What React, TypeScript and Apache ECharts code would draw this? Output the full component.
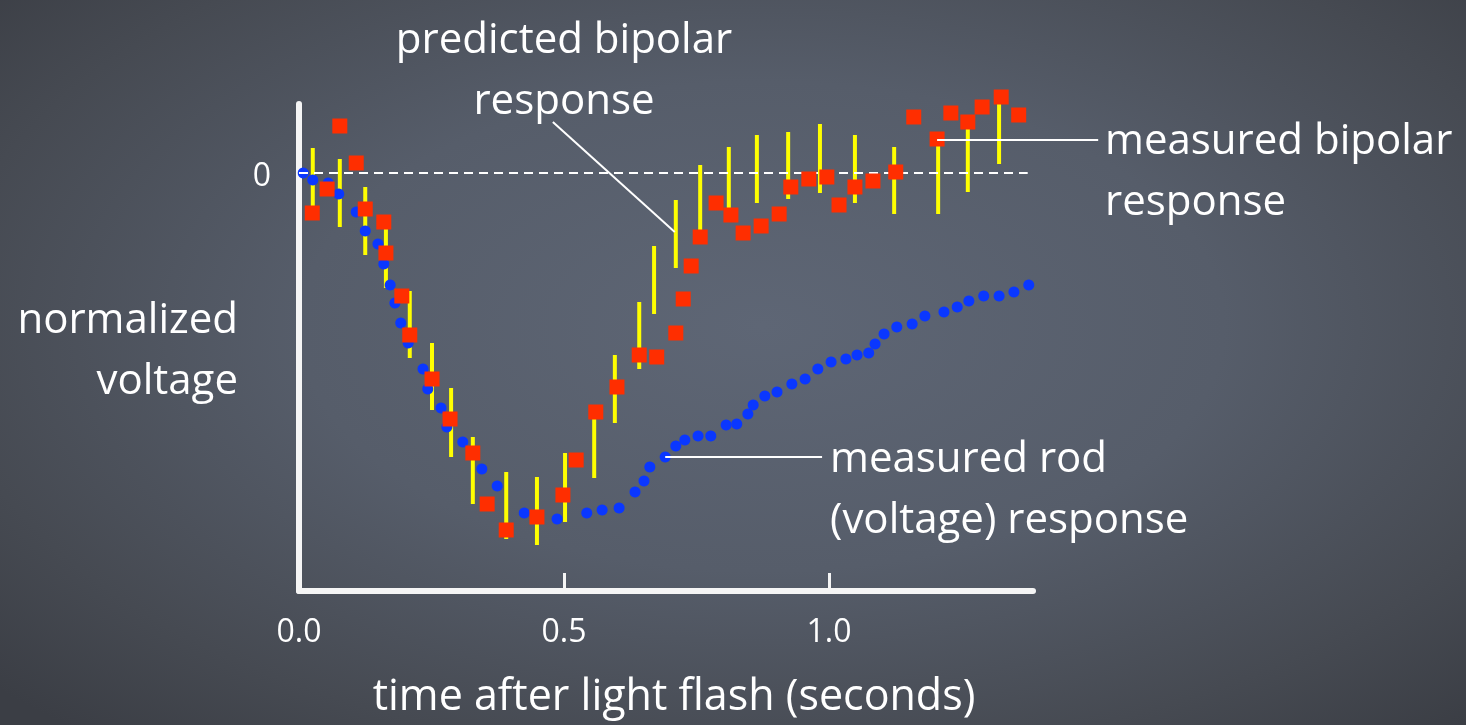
import React, { useEffect, useRef } from "react";
import * as echarts from "echarts";

// measured rod (voltage) response — blue dots
const rodTimes = [
  0.008, 0.026, 0.055, 0.075, 0.108, 0.125, 0.149, 0.16, 0.172, 0.181, 0.192, 0.206,
  0.234, 0.243, 0.268, 0.279, 0.309, 0.345, 0.374, 0.425, 0.487, 0.543, 0.572, 0.604,
  0.634, 0.651, 0.662, 0.691, 0.711, 0.728, 0.753, 0.777, 0.806, 0.826, 0.847, 0.857,
  0.879, 0.902, 0.93, 0.955, 0.979, 1.004, 1.032, 1.053, 1.075, 1.087, 1.104, 1.128,
  1.157, 1.181, 1.217, 1.242, 1.264, 1.292, 1.321, 1.349, 1.377,
];
const rodVoltages = [
  0.0, -0.07, -0.1, -0.21, -0.39, -0.58, -0.71, -0.91, -1.12, -1.3, -1.5, -1.7,
  -1.96, -2.16, -2.35, -2.54, -2.69, -2.96, -3.13, -3.4, -3.46, -3.4, -3.37, -3.35,
  -3.19, -3.08, -2.94, -2.84, -2.73, -2.67, -2.63, -2.63, -2.52, -2.51, -2.41, -2.32,
  -2.23, -2.19, -2.11, -2.06, -1.96, -1.89, -1.86, -1.82, -1.8, -1.71, -1.61, -1.54,
  -1.51, -1.43, -1.39, -1.34, -1.28, -1.23, -1.23, -1.19, -1.12,
];

// measured bipolar response — red squares
const bipolarTimes = [
  0.025, 0.053, 0.077, 0.108, 0.125, 0.16, 0.164, 0.194, 0.209, 0.251, 0.285, 0.328,
  0.355, 0.391, 0.449, 0.498, 0.523, 0.56, 0.6, 0.642, 0.675, 0.711, 0.725, 0.74,
  0.757, 0.787, 0.815, 0.838, 0.872, 0.906, 0.928, 0.962, 0.996, 1.019, 1.049, 1.083,
  1.126, 1.16, 1.204, 1.23, 1.262, 1.289, 1.325, 1.358,
];
const bipolarVoltages = [
  -0.4, -0.16, 0.47, 0.1, -0.36, -0.49, -0.8, -1.23, -1.62, -2.06, -2.46, -2.8,
  -3.31, -3.57, -3.44, -3.22, -2.87, -2.39, -2.14, -1.82, -1.84, -1.6, -1.26, -0.93,
  -0.64, -0.3, -0.42, -0.6, -0.53, -0.41, -0.14, -0.06, -0.04, -0.32, -0.14, -0.08,
  0.01, 0.56, 0.34, 0.6, 0.51, 0.66, 0.76, 0.58,
];

// predicted bipolar response — yellow ranges
const predTimes = [
  0.026, 0.077, 0.125, 0.164, 0.209, 0.251, 0.287, 0.328, 0.391, 0.449, 0.502, 0.557,
  0.596, 0.642, 0.67, 0.711, 0.757, 0.811, 0.864, 0.923, 0.983, 1.049, 1.123, 1.206,
  1.262, 1.321,
];
const predLow = [
  -0.37, -0.54, -0.82, -1.15, -1.85, -2.37, -2.84, -3.31, -3.66, -3.72, -3.49, -3.05,
  -2.5, -1.96, -1.41, -0.95, -0.57, -0.41, -0.3, -0.26, -0.2, -0.3, -0.41, -0.41,
  -0.19, 0.09,
];
const predHigh = [
  0.25, 0.14, -0.14, -0.47, -1.18, -1.7, -2.15, -2.64, -2.99, -3.04, -2.8, -2.37,
  -1.82, -1.29, -0.73, -0.27, 0.08, 0.26, 0.38, 0.41, 0.49, 0.38, 0.26, 0.3,
  0.48, 0.76,
];

const xTicks = [0, 0.5, 1.0];
const yTicks = [0];

// annotation leader lines, in data units: [x1, y1, x2, y2]
const predictedLeader = [0.479, 0.51, 0.709, -0.59];
const rodLeader = [0.691, -2.84, 0.987, -2.84];
const bipolarLeader = [1.204, 0.33, 1.508, 0.33];

const FONT = '"Open Sans", "DejaVu Sans", sans-serif';

export default function App() {
  const ref = useRef<HTMLDivElement>(null);

  useEffect(() => {
    if (!ref.current) return;
    const chart = echarts.init(ref.current, undefined, { renderer: "svg" });

    const rodData = rodTimes.map((t, i) => [t, rodVoltages[i]]);
    const bipData = bipolarTimes.map((t, i) => [t, bipolarVoltages[i]]);
    const predData = predTimes.map((t, i) => [t, predLow[i], predHigh[i]]);

    const leader = { color: "#ffffff", width: 2, type: "solid" as const };
    const textStyle = (text: string, align: string) => ({
      text,
      fill: "#ffffff",
      font: `42px ${FONT}`,
      textAlign: align,
      textVerticalAlign: "middle",
      lineHeight: 61,
    });

    chart.setOption({
      animation: false,
      backgroundColor: "transparent",
      grid: { left: 299, top: 104, width: 734, height: 487, containLabel: false },
      xAxis: {
        type: "value",
        min: 0,
        max: 1.385,
        axisLine: { show: true, onZero: false, lineStyle: { color: "#f5f5f5", width: 6 } },
        axisTick: {
          show: true,
          inside: true,
          length: 18,
          customValues: xTicks,
          lineStyle: { color: "#f5f5f5", width: 3 },
        },
        axisLabel: {
          color: "#ffffff",
          fontFamily: FONT,
          fontSize: 32,
          margin: 22,
          customValues: xTicks,
          formatter: (v: number) => v.toFixed(1),
        },
        splitLine: { show: false },
      },
      yAxis: {
        type: "value",
        min: -4.18,
        max: 0.69,
        axisLine: { show: true, onZero: false, lineStyle: { color: "#f5f5f5", width: 6 } },
        axisTick: { show: false, customValues: yTicks },
        axisLabel: {
          color: "#ffffff",
          fontFamily: FONT,
          fontSize: 32,
          margin: 28,
          customValues: yTicks,
          formatter: (v: number) => String(v),
        },
        splitLine: { show: false },
      },
      graphic: [
        { type: "text", x: 564, y: 67, style: textStyle("predicted bipolar\nresponse", "center"), z: 10 },
        { type: "text", x: 238, y: 347, style: textStyle("normalized\nvoltage", "right") },
        { type: "text", x: 1105, y: 168, style: textStyle("measured bipolar\nresponse", "left") },
        { type: "text", x: 830, y: 486, style: textStyle("measured rod\n(voltage) response", "left") },
        {
          type: "text",
          x: 674,
          y: 693,
          style: {
            text: "time after light flash (seconds)",
            fill: "#ffffff",
            font: `43px ${FONT}`,
            textAlign: "center",
            textVerticalAlign: "middle",
            lineHeight: 43,
          },
        },
      ],
      series: [
        {
          type: "line",
          data: [],
          silent: true,
          markLine: {
            silent: true,
            symbol: ["none", "none"],
            label: { show: false },
            animation: false,
            data: [
              [
                { coord: [0, 0], lineStyle: { color: "#ffffff", width: 2, type: [9, 6] } },
                { coord: [1.375, 0] },
              ],
              [
                { coord: [predictedLeader[0], predictedLeader[1]], lineStyle: leader },
                { coord: [predictedLeader[2], predictedLeader[3]] },
              ],
              [
                { coord: [rodLeader[0], rodLeader[1]], lineStyle: leader },
                { coord: [rodLeader[2], rodLeader[3]] },
              ],
            ],
          },
        },
        {
          type: "custom",
          name: "predicted bipolar response",
          data: predData,
          encode: { x: 0, y: [1, 2] },
          renderItem: (_params: any, api: any) => {
            const x = api.value(0);
            const p1 = api.coord([x, api.value(1)]);
            const p2 = api.coord([x, api.value(2)]);
            return {
              type: "line",
              shape: { x1: p1[0], y1: p1[1], x2: p2[0], y2: p2[1] },
              style: { stroke: "#ffff00", lineWidth: 4 },
            };
          },
          z: 3,
        },
        {
          type: "scatter",
          name: "measured rod response",
          data: rodData,
          symbol: "circle",
          symbolSize: 11,
          itemStyle: { color: "#0a37ff", opacity: 1 },
          clip: false,
          z: 4,
        },
        {
          type: "scatter",
          name: "measured bipolar response",
          data: bipData,
          symbol: "rect",
          symbolSize: 15,
          itemStyle: { color: "#ff2e00", opacity: 1 },
          clip: false,
          z: 5,
        },
      ],
    });

    // leader line that runs past the axis end, placed through the chart's own scale
    const a = chart.convertToPixel({ gridIndex: 0 }, [bipolarLeader[0], bipolarLeader[1]]) as number[];
    const b = chart.convertToPixel({ gridIndex: 0 }, [bipolarLeader[2], bipolarLeader[3]]) as number[];
    chart.setOption({
      graphic: [
        {
          type: "line",
          id: "bipolarLeader",
          shape: { x1: a[0], y1: a[1], x2: b[0], y2: b[1] },
          style: { stroke: "#ffffff", lineWidth: 2 },
          z: 20,
        },
      ],
    });

    return () => chart.dispose();
  }, []);

  return (
    <div
      style={{
        position: "fixed",
        left: 0,
        top: 0,
        width: 1466,
        height: 725,
        background:
          "radial-gradient(ellipse 70% 75% at 52% 45%, #5e6675 0%, #565d6a 45%, #464a52 80%, #3b3e45 100%)",
      }}
    >
      <div ref={ref} style={{ width: 1466, height: 725 }} />
    </div>
  );
}
